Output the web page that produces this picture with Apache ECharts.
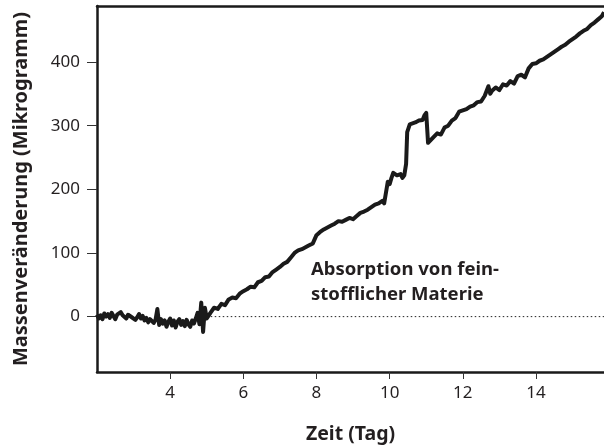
<!DOCTYPE html>
<html>
<head>
<meta charset="utf-8">
<script src="https://cdn.jsdelivr.net/npm/echarts@6/dist/echarts.min.js"></script>
<style>
  html, body { margin: 0; padding: 0; background: #fff; }
  #chart { width: 604px; height: 446px; }
</style>
</head>
<body>
<div id="chart"></div>
<script>
// Zeit (Tag)
var days = [
  2.0, 2.05, 2.1, 2.15, 2.2, 2.25, 2.3, 2.35, 2.4, 2.45, 2.5, 2.55, 2.6, 2.65, 2.7, 2.75, 2.8, 2.85, 2.9, 2.95,
  3.0, 3.05, 3.1, 3.15, 3.2, 3.25, 3.3, 3.35, 3.4, 3.45, 3.5, 3.55, 3.6, 3.65, 3.7, 3.75, 3.8, 3.85, 3.9, 3.95,
  4.0, 4.05, 4.1, 4.15, 4.2, 4.25, 4.3, 4.35, 4.4, 4.45, 4.5, 4.55, 4.6, 4.65, 4.7, 4.75, 4.8, 4.85, 4.9, 4.95,
  5.0, 5.1, 5.2, 5.3, 5.4, 5.5, 5.6, 5.7, 5.8, 5.9,
  6.0, 6.1, 6.2, 6.3, 6.4, 6.5, 6.6, 6.7, 6.8, 6.9,
  7.0, 7.1, 7.2, 7.3, 7.4, 7.5, 7.6, 7.7, 7.8, 7.9,
  8.0, 8.1, 8.2, 8.3, 8.4, 8.5, 8.6, 8.7, 8.8, 8.9,
  9.0, 9.1, 9.2, 9.3, 9.4, 9.5, 9.6, 9.7, 9.8, 9.85, 9.9, 9.95,
  10.0, 10.05, 10.1, 10.2, 10.3, 10.35, 10.4, 10.45, 10.48, 10.55, 10.6, 10.7, 10.8, 10.9, 10.95,
  11.0, 11.02, 11.05, 11.1, 11.2, 11.3, 11.4, 11.5, 11.6, 11.7, 11.8, 11.9,
  12.0, 12.1, 12.2, 12.3, 12.4, 12.5, 12.6, 12.7, 12.75, 12.8, 12.9,
  13.0, 13.1, 13.2, 13.3, 13.4, 13.5, 13.6, 13.7, 13.8, 13.9,
  14.0, 14.1, 14.2, 14.3, 14.4, 14.5, 14.6, 14.7, 14.8, 14.9,
  15.0, 15.1, 15.2, 15.3, 15.4, 15.5, 15.6, 15.7, 15.8, 15.86
];
// Massenveränderung (Mikrogramm)
var mass = [
  3, -3, 2, -4, 5, 0, 4, -2, 6, 1, -4, 3, 0, 7, 2, 5, -3, 3, 6, -1,
  2, -5, -1, 4, -3, 1, -6, -2, -9, -4, -1, -10, -5, 12, -13, -4, -11, -6, -16, -8,
  -3, -14, -6, -17, -8, -4, -13, -7, -15, -5, -12, -16, -6, -11, -3, 6, -12, 22, -24, 14,
  -3, 6, 14, 12, 20, 18, 27, 30, 29, 36,
  40, 43, 47, 46, 54, 56, 62, 63, 70, 74,
  78, 83, 86, 93, 100, 104, 106, 109, 112, 115,
  128, 133, 137, 140, 143, 146, 150, 149, 152, 155,
  153, 158, 163, 165, 168, 172, 176, 178, 182, 178, 195, 212,
  208, 218, 226, 222, 224, 218, 222, 240, 290, 302, 304, 305, 308, 309, 316,
  320, 318, 273, 276, 282, 288, 286, 297, 300, 308, 312, 322,
  324, 326, 330, 332, 337, 338, 347, 362, 350, 355, 360,
  356, 365, 363, 370, 366, 378, 380, 376, 390, 397,
  398, 402, 404, 408, 412, 416, 420, 424, 427, 432,
  436, 440, 445, 449, 452, 458, 462, 467, 472, 478
];
var xTicks = [4, 6, 8, 10, 12, 14];
var yTicks = [0, 100, 200, 300, 400];
var baseline = [[5.0, 0], [15.86, 0]];

var points = days.map(function (d, i) { return [d, mass[i]]; });

var font = 'Noto Sans';
var chart = echarts.init(document.getElementById('chart'));

chart.setOption({
  animation: false,
  backgroundColor: '#fff',
  grid: { left: 97, top: 6, right: 0, bottom: 74, outerBoundsMode: 'none', containLabel: false },
  xAxis: [{
    type: 'value',
    min: 2, max: 15.86,
    name: 'Zeit (Tag)',
    nameLocation: 'middle',
    nameGap: 52,
    nameTextStyle: { fontFamily: font, fontSize: 19.5, fontWeight: 'bold', color: '#231f20' },
    axisLine: { onZero: false, lineStyle: { color: '#1a1a1a', width: 2.5 } },
    axisTick: { customValues: xTicks, length: 7, lineStyle: { color: '#333', width: 1 } },
    axisLabel: { customValues: xTicks, margin: 13, fontFamily: font, fontSize: 17, color: '#231f20' },
    splitLine: { show: false }
  }, {
    type: 'value',
    position: 'top',
    min: 2, max: 15.86,
    axisLine: { show: true, onZero: false, lineStyle: { color: '#1a1a1a', width: 2.5 } },
    axisTick: { show: false },
    axisLabel: { show: false },
    splitLine: { show: false }
  }],
  yAxis: {
    type: 'value',
    min: -87, max: 488,
    name: 'Massenveränderung (Mikrogramm)',
    nameLocation: 'middle',
    nameGap: 66,
    nameTextStyle: { fontFamily: font, fontSize: 20, fontWeight: 'bold', color: '#231f20' },
    axisLine: { show: true, onZero: false, lineStyle: { color: '#1a1a1a', width: 2.5 } },
    axisTick: { show: true, customValues: yTicks, length: 10, lineStyle: { color: '#333', width: 1 } },
    axisLabel: { customValues: yTicks, margin: 17, fontFamily: font, fontSize: 17, color: '#231f20' },
    splitLine: { show: false }
  },
  series: [{
    type: 'line',
    data: baseline,
    symbol: 'none',
    silent: true,
    lineStyle: { color: '#222', width: 1, type: [1.5, 2.5] },
    z: 1
  }, {
    type: 'line',
    data: points,
    symbol: 'none',
    lineStyle: { color: '#1a1a1a', width: 4, join: 'round' },
    z: 3
  }],
  graphic: [{
    type: 'text',
    left: 311,
    top: 257,
    style: {
      text: 'Absorption von fein-\nstofflicher Materie',
      fontFamily: font,
      fontSize: 18.5,
      fontWeight: 'bold',
      lineHeight: 25,
      fill: '#231f20'
    }
  }]
});
</script>
</body>
</html>
